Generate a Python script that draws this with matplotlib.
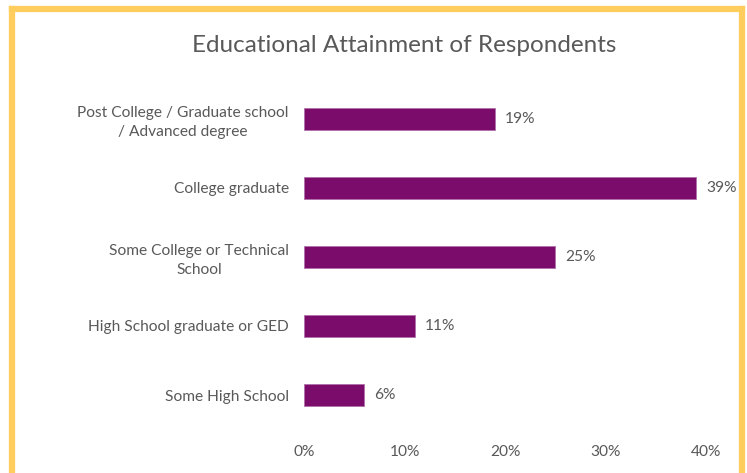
import matplotlib.pyplot as plt
from matplotlib.lines import Line2D

categories = ["Post College / Graduate school\n/ Advanced degree",
              "College graduate",
              "Some College or Technical\nSchool",
              "High School graduate or GED",
              "Some High School"]
values = [19, 39, 25, 11, 6]
xticks = [0, 10, 20, 30, 40]

plt.rcParams['font.family'] = ['Lato', 'DejaVu Sans']
grey = '#595959'
purple = '#7B0C6C'

W, H = 747, 473
fig = plt.figure(figsize=(W / 100, H / 100), dpi=100)
ax = fig.add_axes([304 / W, 43.5 / H, 402 / W, 345 / H])

ypos = list(range(len(categories)))[::-1]
ax.barh(ypos, values, height=0.32, color=purple, edgecolor='#B070A8', linewidth=0.6)
for y, v in zip(ypos, values):
    ax.text(v + 1.0, y, f"{v}%", va='center', ha='left', fontsize=11.2, color=grey)

ax.set_xlim(0, 40)
ax.set_ylim(-0.5, len(categories) - 0.5)
ax.set_yticks(ypos)
ax.set_yticklabels(categories, fontsize=11.2, color=grey, ha='right',
                   multialignment='center', linespacing=1.45)
ax.set_xticks(xticks)
ax.set_xticklabels([f"{t}%" for t in xticks], fontsize=11.2, color=grey)
ax.tick_params(length=0)
ax.tick_params(axis='x', pad=11)
ax.tick_params(axis='y', pad=11)
for s in ax.spines.values():
    s.set_visible(False)

fig.text(404 / W, 1 - 45 / H, "Educational Attainment of Respondents",
         ha='center', va='center', fontsize=17.5, color=grey)

# yellow frame around the chart (open at the bottom)
frame = '#FFCC5E'
fx0, fx1, fy = 12 / W, 741.5 / W, 1 - 9 / H
fig.add_artist(Line2D([fx0, fx0], [0, fy], transform=fig.transFigure, color=frame, lw=4.5, solid_capstyle='projecting'))
fig.add_artist(Line2D([fx1, fx1], [0, fy], transform=fig.transFigure, color=frame, lw=4.5, solid_capstyle='projecting'))
fig.add_artist(Line2D([fx0, fx1], [fy, fy], transform=fig.transFigure, color=frame, lw=4.5, solid_capstyle='projecting'))

fig.savefig("out.png", dpi=100)
